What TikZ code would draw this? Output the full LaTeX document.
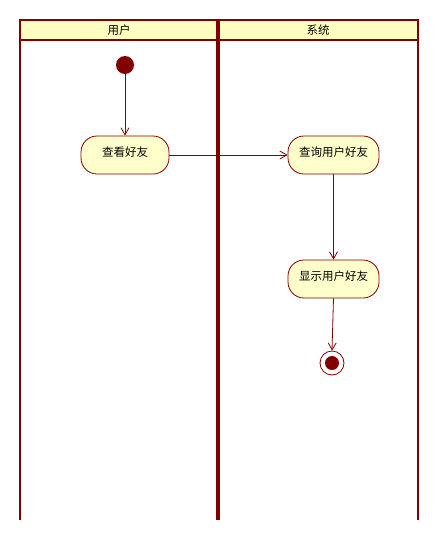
\documentclass[tikz,border=0pt]{standalone}
\usepackage{fontspec}
\newfontfamily\cjk{Noto Sans CJK SC}
\usetikzlibrary{arrows.meta}
\definecolor{umlred}{HTML}{800000}
\definecolor{headfill}{HTML}{FFFFC0}
\definecolor{actfill}{HTML}{FFFFCC}
\newcommand{\acttext}[1]{\raisebox{7pt}{#1}}
\tikzset{
  lane/.style={draw=umlred, line width=2pt},
  midlane/.style={draw=umlred, line width=4pt},
  header/.style={font=\cjk\fontsize{11.5}{13}\selectfont},
  action/.style={draw=umlred, fill=actfill, rounded corners=16pt, line width=0.8pt,
    minimum height=38pt, inner sep=2pt, font=\cjk\fontsize{11.5}{13}\selectfont, anchor=center},
  flow/.style={draw=umlred, line width=0.8pt, -{Straight Barb[length=7pt,width=8pt]}},
  startnode/.style={circle, fill=umlred, minimum size=18pt, inner sep=0pt},
  endnode/.style={circle, draw=umlred, fill=white, line width=0.8pt, minimum size=24pt, inner sep=0pt},
}
\begin{document}
\begin{tikzpicture}[x=1pt, y=-1pt]
  \useasboundingbox (0,0) rectangle (439,539);
  % swimlane headers
  \fill[headfill] (19.5,19.5) rectangle (418,39.5);
  \node[header] (h1) at (119,30) {用户};
  \node[header] (h2) at (318,30) {系统};
  % swimlane borders
  \draw[lane] (19.5,520) -- (19.5,19.5) -- (418,19.5) -- (418,520);
  \draw[lane] (19.5,39.5) -- (418,39.5);
  \draw[midlane] (218,19.5) -- (218,520);
  % activity nodes
  \node[startnode] (start) at (125,65) {};
  \node[action, minimum width=88pt] (a1) at (125,155) {\acttext{查看好友}};
  \node[action, minimum width=91pt] (a2) at (333.5,155) {\acttext{查询用户好友}};
  \node[action, minimum width=91pt] (a3) at (333.5,279) {\acttext{显示用户好友}};
  \node[endnode] (end) at (332,363) {};
  \node[circle, fill=umlred, minimum size=14pt, inner sep=0pt] (endcore) at (end.center) {};
  % control flows
  \draw[flow] (start) -- (a1);
  \draw[flow] (a1) -- (a2);
  \draw[flow] (a2) -- (a3);
  \draw[flow] (a3.south) -- (end.north);
\end{tikzpicture}
\end{document}
